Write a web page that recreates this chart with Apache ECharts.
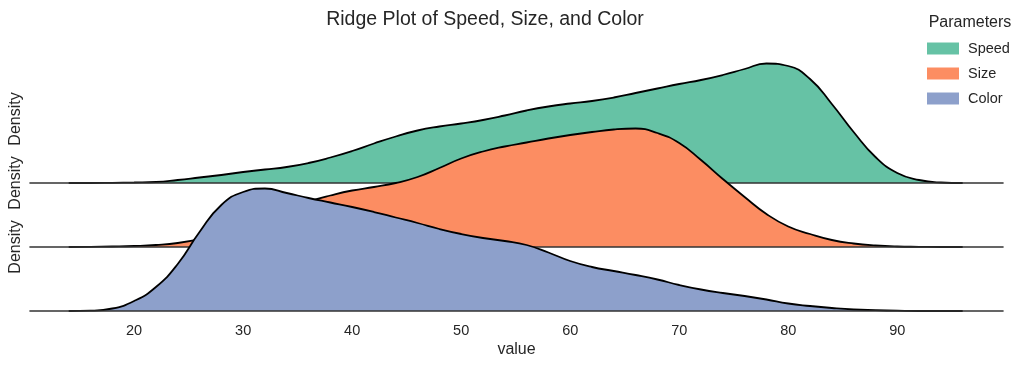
<!DOCTYPE html>
<html>
<head>
<meta charset="utf-8">
<script src="https://cdn.jsdelivr.net/npm/echarts@6/dist/echarts.min.js"></script>
<style>
    html, body { margin: 0; padding: 0; background: #fff; }
    #main { width: 1022px; height: 369px; }
</style>
</head>
<body>
<div id="main"></div>
<script>
// x grid of the density estimates
const xValues = [14, 16, 18, 20, 22, 24, 26, 28, 30, 32, 34, 36, 38, 40, 42, 44, 46, 48, 50, 52, 54,
    56, 58, 60, 62, 64, 66, 68, 70, 72, 74, 76, 78, 80, 82, 84, 86, 88, 90, 92, 94, 96];

// densities (units of 1e-4)
const speedDensity = [0, 0, 0.2, 0.5, 1, 3, 5.5, 8, 11, 13.5, 16, 20, 25.5, 32, 39.5, 46.5, 52.5, 56.5, 59.5, 63, 67.5,
    72.5, 76.5, 79.5, 82, 85.5, 90, 94.5, 99, 103, 108, 114, 119.5, 117, 104, 79, 51, 26, 10, 3, 0.5, 0];
const sizeDensity = [0, 0.2, 0.5, 1, 2, 4, 8, 14, 22, 30, 38, 45.5, 51.5, 56.5, 60, 64, 70, 79, 88.5, 95.5, 100.5,
    104.5, 108.5, 112, 115, 117.5, 118.5, 114, 104, 87, 68, 50, 33, 20.5, 13, 7, 3.5, 1.5, 0.5, 0.2, 0, 0];
const colorDensity = [0, 0.3, 2.5, 10, 24, 47, 79, 106, 119, 122.5, 118, 113, 108.5, 104, 99, 93.5, 88, 82, 77, 73, 70,
    66, 58.5, 50, 44, 40, 36, 31.5, 26, 21.5, 18, 15, 11.5, 7.5, 5, 3, 1.5, 0.8, 0.3, 0, 0, 0];

const seriesNames = ['Speed', 'Size', 'Color'];
const tickLabels = [20, 30, 40, 50, 60, 70, 80, 90];

const fills = ['#66c2a5', '#fc8d62', '#8da0cb'];
const baselines = [183, 247, 311];   // pixel y of each ridge's baseline
const allDensity = [speedDensity, sizeDensity, colorDensity];
const textColor = '#262626';
const font = 'Liberation Sans, Arial, sans-serif';

let chart = echarts.init(document.getElementById('main'));

let grids = [], xAxes = [], yAxes = [], series = [];
for (let i = 0; i < 3; i++) {
    grids.push({
        left: 30,
        right: 19,
        bottom: 369 - baselines[i],
        height: 128
    });
    xAxes.push({
        type: 'value',
        gridIndex: i,
        min: 10.45,
        max: 99.7,
        z: 2 * i + 2,
        axisLine: { show: true, lineStyle: { color: '#333', width: 1.6 } },
        axisTick: { show: false },
        splitLine: { show: false },
        axisLabel: {
            show: i === 2,
            customValues: tickLabels,
            margin: 12,
            color: textColor,
            fontSize: 14.5,
            fontFamily: font
        },
        name: i === 2 ? 'value' : '',
        nameLocation: 'middle',
        nameGap: 31,
        nameTextStyle: { color: textColor, fontSize: 16, fontFamily: font }
    });
    yAxes.push({
        type: 'value',
        gridIndex: i,
        min: 0,
        max: 128,
        axisLine: { show: false },
        axisTick: { show: false },
        axisLabel: { show: false },
        splitLine: { show: false },
        name: 'Density',
        nameLocation: 'middle',
        nameGap: 6,
        nameTextStyle: { color: textColor, fontSize: 16, fontFamily: font }
    });
    series.push({
        name: seriesNames[i],
        type: 'line',
        xAxisIndex: i,
        yAxisIndex: i,
        z: 2 * i + 1,
        clip: false,
        smooth: 0.5,
        showSymbol: false,
        silent: true,
        itemStyle: { color: fills[i] },
        lineStyle: { color: '#000', width: 1.8 },
        areaStyle: { color: fills[i], opacity: 1 },
        data: xValues.map((x, k) => [x, allDensity[i][k]])
    });
}

let option = {
    animation: false,
    backgroundColor: '#fff',
    title: [{
        text: 'Ridge Plot of Speed, Size, and Color',
        left: 480,
        textAlign: 'center',
        top: 5,
        textStyle: { color: textColor, fontSize: 19.5, fontWeight: 'normal', fontFamily: font }
    }, {
        text: 'Parameters',
        left: 965,
        textAlign: 'center',
        top: 10,
        textStyle: { color: textColor, fontSize: 16, fontWeight: 'normal', fontFamily: font }
    }],
    legend: {
        orient: 'vertical',
        left: 922,
        top: 36,
        icon: 'rect',
        itemWidth: 32,
        itemHeight: 12,
        itemGap: 10,
        textStyle: { color: textColor, fontSize: 14.5, fontFamily: font, padding: [0, 0, 0, 4] },
        data: seriesNames.map((n, i) => ({ name: n, itemStyle: { color: fills[i], borderWidth: 0 } }))
    },
    grid: grids,
    xAxis: xAxes,
    yAxis: yAxes,
    series: series
};

chart.setOption(option);
</script>
</body>
</html>
